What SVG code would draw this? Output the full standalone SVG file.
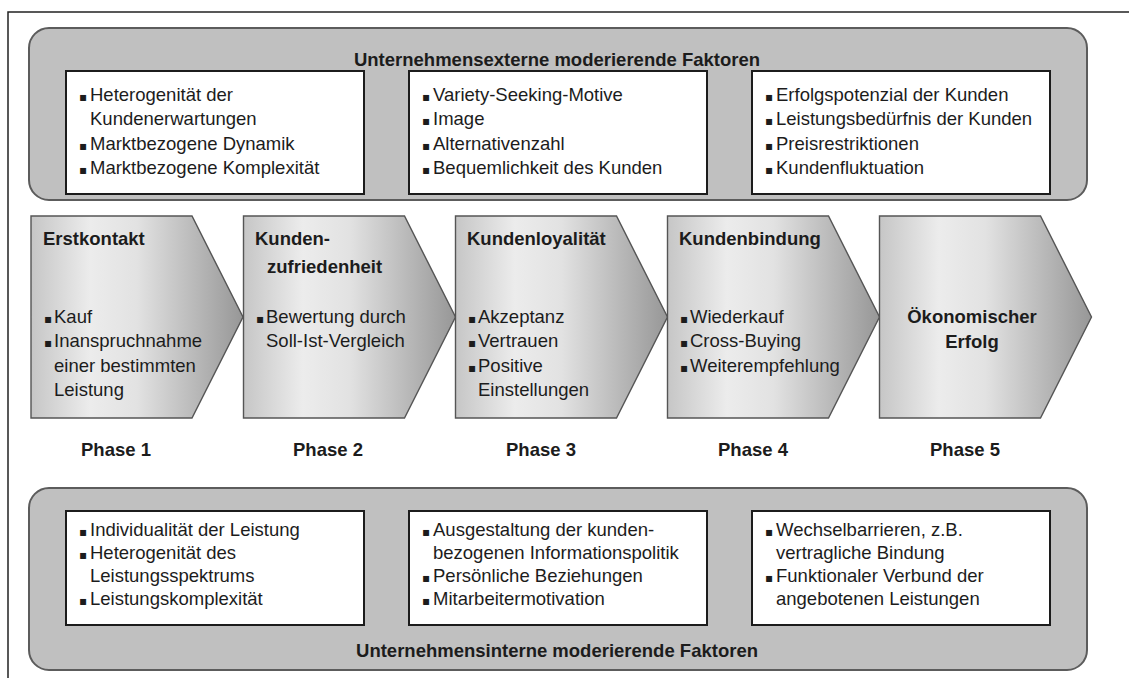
<svg xmlns="http://www.w3.org/2000/svg" width="1129" height="680" viewBox="0 0 1129 680">
<defs>
<linearGradient id="ag" x1="0" y1="0" x2="1" y2="0">
<stop offset="0" stop-color="#c6c6c6"/>
<stop offset="0.28" stop-color="#ececec"/>
<stop offset="0.5" stop-color="#e2e2e2"/>
<stop offset="1" stop-color="#979797"/>
</linearGradient>
<style>
text{font-family:"Liberation Sans",Arial,sans-serif;font-size:18.5px;fill:#1c1c1c}
.t{font-weight:bold}
.c{text-anchor:middle}
.b{font-family:"DejaVu Sans",sans-serif;font-size:12px}
.panel{fill:#c0c0c0;stroke:#5c5c5c;stroke-width:2}
.box{fill:#fff;stroke:#1c1c1c;stroke-width:2}
.arrow{fill:url(#ag);stroke:#555;stroke-width:1.4}
.frame{stroke:#222;stroke-width:1.5;fill:none}
</style>
</defs>
<rect width="1129" height="680" fill="#fff"/>
<path class="frame" d="M1129 12H8V678"/>

<g id="panel-extern">
<rect class="panel" x="29" y="28" width="1058" height="172" rx="20"/>
<text class="t c" x="557" y="66">Unternehmensexterne moderierende Faktoren</text>
</g>
<g id="extern-1">
<rect class="box" x="66" y="71" width="298" height="123"/>
<text x="79" y="101"><tspan class="b">▪</tspan><tspan x="90">Heterogenität der</tspan></text>
<text x="90" y="125">Kundenerwartungen</text>
<text x="79" y="150"><tspan class="b">▪</tspan><tspan x="90">Marktbezogene Dynamik</tspan></text>
<text x="79" y="174"><tspan class="b">▪</tspan><tspan x="90">Marktbezogene Komplexität</tspan></text>
</g>
<g id="extern-2">
<rect class="box" x="409" y="71" width="298" height="123"/>
<text x="422" y="101"><tspan class="b">▪</tspan><tspan x="433">Variety-Seeking-Motive</tspan></text>
<text x="422" y="125"><tspan class="b">▪</tspan><tspan x="433">Image</tspan></text>
<text x="422" y="150"><tspan class="b">▪</tspan><tspan x="433">Alternativenzahl</tspan></text>
<text x="422" y="174"><tspan class="b">▪</tspan><tspan x="433">Bequemlichkeit des Kunden</tspan></text>
</g>
<g id="extern-3">
<rect class="box" x="752" y="71" width="298" height="123"/>
<text x="765" y="101"><tspan class="b">▪</tspan><tspan x="776">Erfolgspotenzial der Kunden</tspan></text>
<text x="765" y="125"><tspan class="b">▪</tspan><tspan x="776">Leistungsbedürfnis der Kunden</tspan></text>
<text x="765" y="150"><tspan class="b">▪</tspan><tspan x="776">Preisrestriktionen</tspan></text>
<text x="765" y="174"><tspan class="b">▪</tspan><tspan x="776">Kundenfluktuation</tspan></text>
</g>

<g id="phase-1">
<polygon class="arrow" points="31,216 192,216 243,317 192,418 31,418"/>
<text class="t" x="43" y="245">Erstkontakt</text>
<text x="44" y="323"><tspan class="b">▪</tspan><tspan x="54">Kauf</tspan></text>
<text x="44" y="347"><tspan class="b">▪</tspan><tspan x="54">Inanspruchnahme</tspan></text>
<text x="54" y="372">einer bestimmten</text>
<text x="54" y="396">Leistung</text>
<text class="t c" x="116" y="456">Phase 1</text>
</g>
<g id="phase-2">
<polygon class="arrow" points="243.5,216 404.5,216 455.5,317 404.5,418 243.5,418"/>
<text class="t" x="255" y="245">Kunden-</text>
<text class="t" x="267" y="273">zufriedenheit</text>
<text x="256" y="323"><tspan class="b">▪</tspan><tspan x="266">Bewertung durch</tspan></text>
<text x="266" y="347">Soll-Ist-Vergleich</text>
<text class="t c" x="328" y="456">Phase 2</text>
</g>
<g id="phase-3">
<polygon class="arrow" points="455.5,216 616.5,216 667.5,317 616.5,418 455.5,418"/>
<text class="t" x="467" y="245">Kundenloyalität</text>
<text x="468" y="323"><tspan class="b">▪</tspan><tspan x="478">Akzeptanz</tspan></text>
<text x="468" y="347"><tspan class="b">▪</tspan><tspan x="478">Vertrauen</tspan></text>
<text x="468" y="372"><tspan class="b">▪</tspan><tspan x="478">Positive</tspan></text>
<text x="478" y="396">Einstellungen</text>
<text class="t c" x="541" y="456">Phase 3</text>
</g>
<g id="phase-4">
<polygon class="arrow" points="667.5,216 828.5,216 879.5,317 828.5,418 667.5,418"/>
<text class="t" x="679" y="245">Kundenbindung</text>
<text x="680" y="323"><tspan class="b">▪</tspan><tspan x="690">Wiederkauf</tspan></text>
<text x="680" y="347"><tspan class="b">▪</tspan><tspan x="690">Cross-Buying</tspan></text>
<text x="680" y="372"><tspan class="b">▪</tspan><tspan x="690">Weiterempfehlung</tspan></text>
<text class="t c" x="753" y="456">Phase 4</text>
</g>
<g id="phase-5">
<polygon class="arrow" points="879.5,216 1040.5,216 1091.5,317 1040.5,418 879.5,418"/>
<text class="t c" x="972" y="323">Ökonomischer</text>
<text class="t c" x="972" y="348">Erfolg</text>
<text class="t c" x="965" y="456">Phase 5</text>
</g>

<g id="connectors"/>

<g id="panel-intern">
<rect class="panel" x="29" y="488" width="1058" height="182" rx="20"/>
<text class="t c" x="557" y="657">Unternehmensinterne moderierende Faktoren</text>
</g>
<g id="intern-1">
<rect class="box" x="66" y="511" width="298" height="114"/>
<text x="79" y="536"><tspan class="b">▪</tspan><tspan x="90">Individualität der Leistung</tspan></text>
<text x="79" y="559"><tspan class="b">▪</tspan><tspan x="90">Heterogenität des</tspan></text>
<text x="90" y="582">Leistungsspektrums</text>
<text x="79" y="605"><tspan class="b">▪</tspan><tspan x="90">Leistungskomplexität</tspan></text>
</g>
<g id="intern-2">
<rect class="box" x="409" y="511" width="298" height="114"/>
<text x="422" y="536"><tspan class="b">▪</tspan><tspan x="433">Ausgestaltung der kunden-</tspan></text>
<text x="433" y="559">bezogenen Informationspolitik</text>
<text x="422" y="582"><tspan class="b">▪</tspan><tspan x="433">Persönliche Beziehungen</tspan></text>
<text x="422" y="605"><tspan class="b">▪</tspan><tspan x="433">Mitarbeitermotivation</tspan></text>
</g>
<g id="intern-3">
<rect class="box" x="752" y="511" width="298" height="114"/>
<text x="765" y="536"><tspan class="b">▪</tspan><tspan x="776">Wechselbarrieren, z.B.</tspan></text>
<text x="776" y="559">vertragliche Bindung</text>
<text x="765" y="582"><tspan class="b">▪</tspan><tspan x="776">Funktionaler Verbund der</tspan></text>
<text x="776" y="605">angebotenen Leistungen</text>
</g>
</svg>
